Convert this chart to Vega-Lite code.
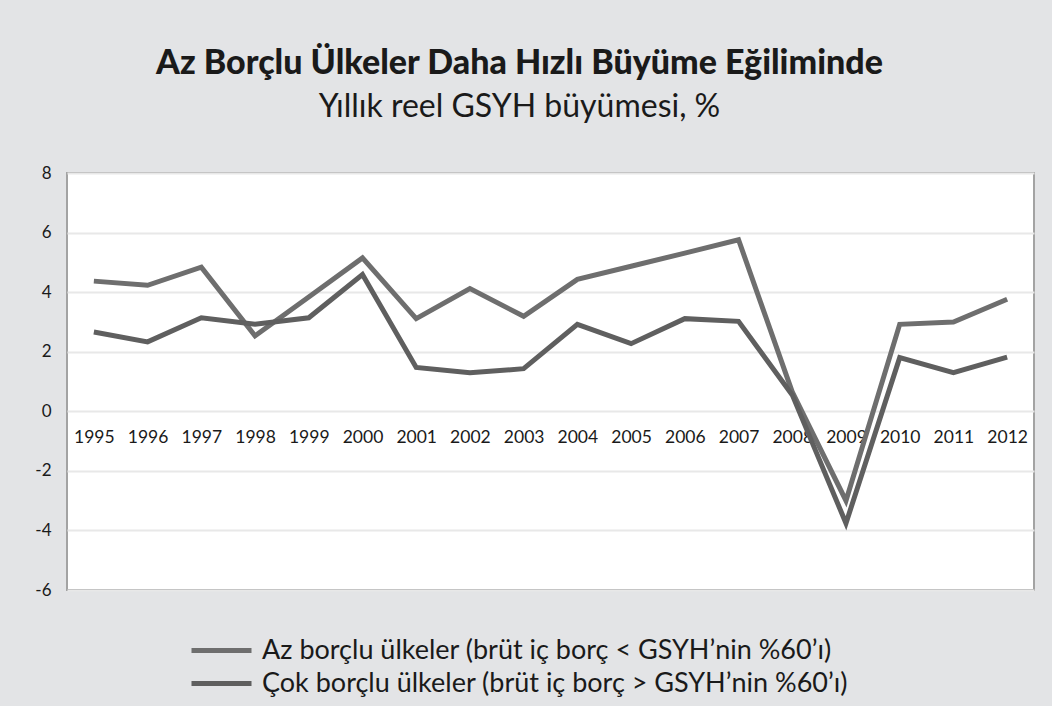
{
  "$schema": "https://vega.github.io/schema/vega-lite/v6.json",
  "width": 967,
  "height": 417,
  "autosize": {"type": "none"},
  "padding": {"left": 67, "top": 173, "right": 18, "bottom": 116},
  "background": "#e3e4e6",
  "title": {
    "text": "Az Borçlu Ülkeler Daha Hızlı Büyüme Eğiliminde",
    "subtitle": "Yıllık reel GSYH büyümesi, %",
    "anchor": "middle",
    "frame": "group",
    "dx": -31,
    "offset": 41,
    "font": "Lato",
    "fontSize": 34,
    "fontWeight": 900,
    "color": "#1a1a1a",
    "subtitleFont": "Lato",
    "subtitleFontSize": 32,
    "subtitleColor": "#1a1a1a",
    "subtitlePadding": 11
  },
  "config": {
    "view": {"fill": "white", "stroke": "#a3a3a3", "strokeWidth": 2},
    "font": "Lato"
  },
  "data": {
    "values": [
      {"year": "1995", "series": "Az borçlu ülkeler (brüt iç borç < GSYH’nin %60’ı)", "value": 4.37},
      {"year": "1996", "series": "Az borçlu ülkeler (brüt iç borç < GSYH’nin %60’ı)", "value": 4.23},
      {"year": "1997", "series": "Az borçlu ülkeler (brüt iç borç < GSYH’nin %60’ı)", "value": 4.84},
      {"year": "1998", "series": "Az borçlu ülkeler (brüt iç borç < GSYH’nin %60’ı)", "value": 2.53},
      {"year": "1999", "series": "Az borçlu ülkeler (brüt iç borç < GSYH’nin %60’ı)", "value": 3.84},
      {"year": "2000", "series": "Az borçlu ülkeler (brüt iç borç < GSYH’nin %60’ı)", "value": 5.15},
      {"year": "2001", "series": "Az borçlu ülkeler (brüt iç borç < GSYH’nin %60’ı)", "value": 3.11},
      {"year": "2002", "series": "Az borçlu ülkeler (brüt iç borç < GSYH’nin %60’ı)", "value": 4.12},
      {"year": "2003", "series": "Az borçlu ülkeler (brüt iç borç < GSYH’nin %60’ı)", "value": 3.19},
      {"year": "2004", "series": "Az borçlu ülkeler (brüt iç borç < GSYH’nin %60’ı)", "value": 4.43},
      {"year": "2005", "series": "Az borçlu ülkeler (brüt iç borç < GSYH’nin %60’ı)", "value": 4.87},
      {"year": "2006", "series": "Az borçlu ülkeler (brüt iç borç < GSYH’nin %60’ı)", "value": 5.31},
      {"year": "2007", "series": "Az borçlu ülkeler (brüt iç borç < GSYH’nin %60’ı)", "value": 5.76},
      {"year": "2008", "series": "Az borçlu ülkeler (brüt iç borç < GSYH’nin %60’ı)", "value": 0.65},
      {"year": "2009", "series": "Az borçlu ülkeler (brüt iç borç < GSYH’nin %60’ı)", "value": -3.0},
      {"year": "2010", "series": "Az borçlu ülkeler (brüt iç borç < GSYH’nin %60’ı)", "value": 2.92},
      {"year": "2011", "series": "Az borçlu ülkeler (brüt iç borç < GSYH’nin %60’ı)", "value": 3.0},
      {"year": "2012", "series": "Az borçlu ülkeler (brüt iç borç < GSYH’nin %60’ı)", "value": 3.76},
      {"year": "1995", "series": "Çok borçlu ülkeler (brüt iç borç > GSYH’nin %60’ı)", "value": 2.66},
      {"year": "1996", "series": "Çok borçlu ülkeler (brüt iç borç > GSYH’nin %60’ı)", "value": 2.33},
      {"year": "1997", "series": "Çok borçlu ülkeler (brüt iç borç > GSYH’nin %60’ı)", "value": 3.14},
      {"year": "1998", "series": "Çok borçlu ülkeler (brüt iç borç > GSYH’nin %60’ı)", "value": 2.92},
      {"year": "1999", "series": "Çok borçlu ülkeler (brüt iç borç > GSYH’nin %60’ı)", "value": 3.14},
      {"year": "2000", "series": "Çok borçlu ülkeler (brüt iç borç > GSYH’nin %60’ı)", "value": 4.59},
      {"year": "2001", "series": "Çok borçlu ülkeler (brüt iç borç > GSYH’nin %60’ı)", "value": 1.47},
      {"year": "2002", "series": "Çok borçlu ülkeler (brüt iç borç > GSYH’nin %60’ı)", "value": 1.29},
      {"year": "2003", "series": "Çok borçlu ülkeler (brüt iç borç > GSYH’nin %60’ı)", "value": 1.43},
      {"year": "2004", "series": "Çok borçlu ülkeler (brüt iç borç > GSYH’nin %60’ı)", "value": 2.92},
      {"year": "2005", "series": "Çok borçlu ülkeler (brüt iç borç > GSYH’nin %60’ı)", "value": 2.27},
      {"year": "2006", "series": "Çok borçlu ülkeler (brüt iç borç > GSYH’nin %60’ı)", "value": 3.11},
      {"year": "2007", "series": "Çok borçlu ülkeler (brüt iç borç > GSYH’nin %60’ı)", "value": 3.02},
      {"year": "2008", "series": "Çok borçlu ülkeler (brüt iç borç > GSYH’nin %60’ı)", "value": 0.55},
      {"year": "2009", "series": "Çok borçlu ülkeler (brüt iç borç > GSYH’nin %60’ı)", "value": -3.76},
      {"year": "2010", "series": "Çok borçlu ülkeler (brüt iç borç > GSYH’nin %60’ı)", "value": 1.8},
      {"year": "2011", "series": "Çok borçlu ülkeler (brüt iç borç > GSYH’nin %60’ı)", "value": 1.3},
      {"year": "2012", "series": "Çok borçlu ülkeler (brüt iç borç > GSYH’nin %60’ı)", "value": 1.82}
    ]
  },
  "mark": {"type": "line", "strokeWidth": 5, "strokeJoin": "miter"},
  "encoding": {
    "x": {
      "field": "year",
      "type": "ordinal",
      "scale": {"type": "point", "padding": 0.5},
      "axis": {
        "title": null,
        "offset": -179,
        "domain": false,
        "ticks": false,
        "labelAngle": 0,
        "labelPadding": 17,
        "labelFontSize": 17.5,
        "labelColor": "#1a1a1a",
        "labelFont": "Lato"
      }
    },
    "y": {
      "field": "value",
      "type": "quantitative",
      "scale": {"domain": [-6, 8], "nice": false},
      "axis": {
        "title": null,
        "values": [-6, -4, -2, 0, 2, 4, 6, 8],
        "labelExpr": "replace(datum.label, '−', '-')",
        "domain": false,
        "ticks": false,
        "labelPadding": 16,
        "labelFontSize": 17,
        "labelColor": "#1a1a1a",
        "labelFont": "Lato",
        "gridColor": "#e8e8e8",
        "gridWidth": 2
      }
    },
    "color": {
      "field": "series",
      "type": "nominal",
      "scale": {
        "domain": ["Az borçlu ülkeler (brüt iç borç < GSYH’nin %60’ı)", "Çok borçlu ülkeler (brüt iç borç > GSYH’nin %60’ı)"],
        "range": ["#6e6e6e", "#5f5f5f"]
      },
      "legend": {
        "title": null,
        "orient": "none",
        "legendX": 137,
        "legendY": 460,
        "symbolType": "M-2,0H2",
        "symbolSize": 900,
        "symbolStrokeWidth": 5,
        "labelFontSize": 27,
        "labelFont": "Lato",
        "labelColor": "#1a1a1a",
        "labelLimit": 800,
        "rowPadding": 2,
        "labelOffset": 23
      }
    }
  }
}
